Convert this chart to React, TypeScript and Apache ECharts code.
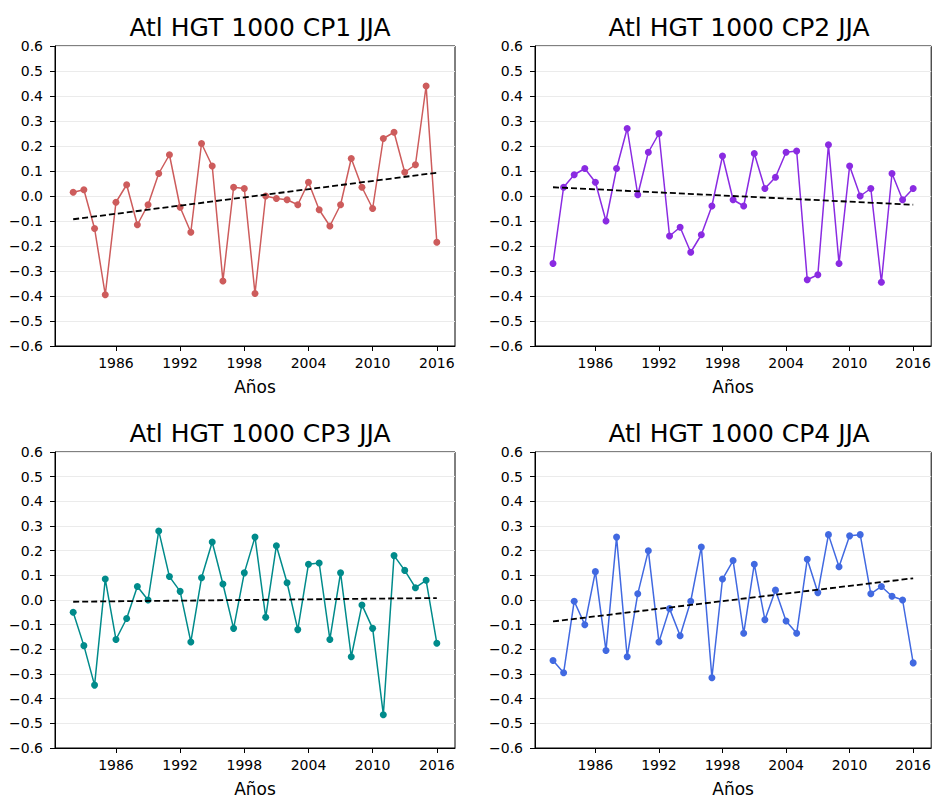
import React, { useEffect, useRef } from "react";
import * as echarts from "echarts";

const years: number[] = [
  1982, 1983, 1984, 1985, 1986, 1987, 1988, 1989, 1990, 1991, 1992, 1993,
  1994, 1995, 1996, 1997, 1998, 1999, 2000, 2001, 2002, 2003, 2004, 2005,
  2006, 2007, 2008, 2009, 2010, 2011, 2012, 2013, 2014, 2015, 2016,
];

const xTickLabels: number[] = [1986, 1992, 1998, 2004, 2010, 2016];

const titles: string[] = [
  "Atl HGT 1000 CP1 JJA",
  "Atl HGT 1000 CP2 JJA",
  "Atl HGT 1000 CP3 JJA",
  "Atl HGT 1000 CP4 JJA",
];

const cp1: number[] = [
  0.015, 0.025, -0.13, -0.395, -0.025, 0.045, -0.115, -0.035, 0.09, 0.165,
  -0.045, -0.145, 0.21, 0.12, -0.34, 0.035, 0.03, -0.39, 0.0, -0.01, -0.015,
  -0.035, 0.055, -0.055, -0.12, -0.035, 0.15, 0.035, -0.05, 0.23, 0.255,
  0.095, 0.125, 0.44, -0.185,
];
const cp2: number[] = [
  -0.27, 0.035, 0.085, 0.11, 0.055, -0.1, 0.11, 0.27, 0.005, 0.175, 0.25,
  -0.16, -0.125, -0.225, -0.155, -0.04, 0.16, -0.015, -0.04, 0.17, 0.03,
  0.075, 0.175, 0.18, -0.335, -0.315, 0.205, -0.27, 0.12, 0.0, 0.03, -0.345,
  0.09, -0.015, 0.03,
];
const cp3: number[] = [
  -0.05, -0.185, -0.345, 0.085, -0.16, -0.075, 0.055, 0.0, 0.28, 0.095,
  0.035, -0.17, 0.09, 0.235, 0.065, -0.115, 0.11, 0.255, -0.07, 0.22, 0.07,
  -0.12, 0.145, 0.15, -0.16, 0.11, -0.23, -0.02, -0.115, -0.465, 0.18, 0.12,
  0.05, 0.08, -0.175,
];
const cp4: number[] = [
  -0.245, -0.295, -0.005, -0.1, 0.115, -0.205, 0.255, -0.23, 0.025, 0.2,
  -0.17, -0.035, -0.145, -0.005, 0.215, -0.315, 0.085, 0.16, -0.135, 0.145,
  -0.08, 0.04, -0.085, -0.135, 0.165, 0.03, 0.265, 0.135, 0.26, 0.265, 0.025,
  0.055, 0.015, 0.0, -0.255,
];

// trend line endpoints (at 1982 and 2016)
const trend1: number[] = [-0.093, 0.093];
const trend2: number[] = [0.035, -0.035];
const trend3: number[] = [-0.007, 0.008];
const trend4: number[] = [-0.087, 0.088];

const colors: string[] = ["#cd5c5c", "#8a2be2", "#008b8b", "#4169e1"];

const FONT = "DejaVu Sans";

export default function App() {
  const ref = useRef<HTMLDivElement>(null);

  useEffect(() => {
    if (!ref.current) return;
    const chart = echarts.init(ref.current, undefined, { renderer: "svg" });

    const values = [cp1, cp2, cp3, cp4];
    const trends = [trend1, trend2, trend3, trend4];
    const grids = [
      { left: 55, top: 46, width: 400, height: 300 },
      { left: 535, top: 46, width: 398, height: 300 },
      { left: 55, top: 452, width: 400, height: 300 },
      { left: 535, top: 452, width: 398, height: 300 },
    ];

    const fmtY = (v: number) => {
      const s = Math.abs(v) < 1e-9 ? "0.0" : v.toFixed(1);
      return "{t|" + s.replace("-", "\u2212") + "}";
    };
    const fmtX = (v: number) => "{t|" + String(Math.round(v)) + "}";
    const rich = { t: { fontFamily: FONT, fontSize: 14, color: "#000" } };

    const option: any = {
      animation: false,
      backgroundColor: "#ffffff",
      textStyle: { fontFamily: FONT },
      title: grids.map((g, i) => ({
        text: titles[i],
        left: g.left + g.width / 2,
        top: g.top - 36,
        textAlign: "center",
        textStyle: {
          fontFamily: FONT,
          fontSize: 25,
          fontWeight: "normal",
          color: "#000",
        },
      })),
      grid: grids.map((g) => ({
        ...g,
        show: true,
        borderColor: "#000",
        borderWidth: 1,
        backgroundColor: "transparent",
        containLabel: false,
      })),
      xAxis: grids.map((_, i) => ({
        type: "value",
        gridIndex: i,
        min: 1980.3,
        max: 2017.7,
        name: "Años",
        nameLocation: "middle",
        nameGap: 32,
        nameTextStyle: { fontFamily: FONT, fontSize: 17, color: "#000" },
        axisLine: { show: true, onZero: false, lineStyle: { color: "#000", width: 1 } },
        axisTick: {
          show: true,
          length: 5,
          customValues: xTickLabels,
          lineStyle: { color: "#000" },
        },
        axisLabel: {
          customValues: xTickLabels,
          margin: 10,
          fontFamily: FONT,
          fontSize: 14,
          color: "#000",
          formatter: fmtX,
          rich,
        },
        splitLine: { show: false },
      })),
      yAxis: grids.map((_, i) => ({
        type: "value",
        gridIndex: i,
        min: -0.6,
        max: 0.6,
        interval: 0.1,
        axisLine: { show: true, lineStyle: { color: "#000", width: 1 } },
        axisTick: { show: true, length: 5, lineStyle: { color: "#000" } },
        axisLabel: {
          margin: 12,
          fontFamily: FONT,
          fontSize: 14,
          color: "#000",
          formatter: fmtY,
          rich,
        },
        splitLine: { show: true, lineStyle: { color: "#ebebeb", width: 1 } },
      })),
      series: [
        ...values.map((vals, i) => ({
          type: "line",
          xAxisIndex: i,
          yAxisIndex: i,
          data: years.map((y, k) => [y, vals[k]]),
          symbol: "circle",
          symbolSize: 7,
          showSymbol: true,
          lineStyle: { color: colors[i], width: 1.5 },
          itemStyle: { color: colors[i] },
          z: 2,
        })),
        ...trends.map((t, i) => ({
          type: "line",
          xAxisIndex: i,
          yAxisIndex: i,
          data: [
            [years[0], t[0]],
            [years[years.length - 1], t[1]],
          ],
          symbol: "none",
          lineStyle: { color: "#000", width: 1.8, type: [6, 3] },
          z: 3,
        })),
      ],
    };

    chart.setOption(option);
    return () => chart.dispose();
  }, []);

  return (
    <div
      ref={ref}
      style={{ position: "absolute", left: 0, top: 0, width: 934, height: 798 }}
    />
  );
}
